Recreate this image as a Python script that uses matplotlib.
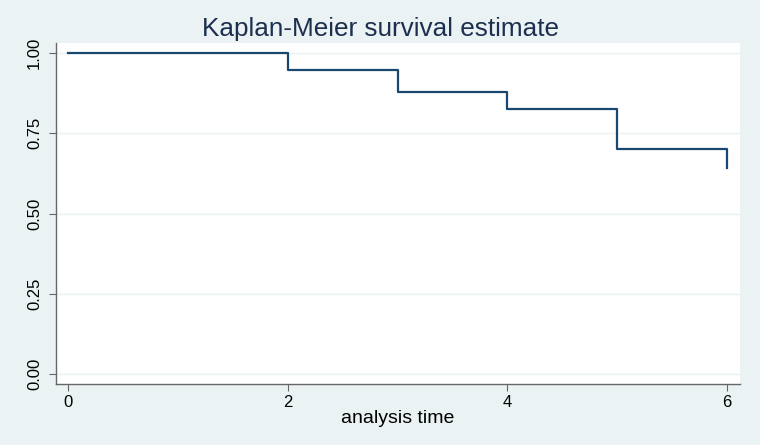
import matplotlib
matplotlib.use("Agg")
import matplotlib.pyplot as plt

# survival estimate data
times = [0, 2, 3, 4, 5, 6]
survival = [1.0, 0.947, 0.877, 0.826, 0.702, 0.643]
xticks = [0, 2, 4, 6]
yticks = [0.0, 0.25, 0.5, 0.75, 1.0]
ytick_labels = ["0.00", "0.25", "0.50", "0.75", "1.00"]

plt.rcParams['font.family'] = ['Liberation Sans', 'DejaVu Sans']

bg = "#EAF2F3"
fig = plt.figure(figsize=(7.6, 4.45), dpi=100, facecolor=bg)
ax = fig.add_axes([56 / 760, 1 - 384 / 445, (740 - 56) / 760, (384 - 43) / 445])
ax.set_facecolor("white")

ax.plot(times, survival, drawstyle="steps-post", color="#1A476F", linewidth=1.6)

ax.set_xlim(-0.109, 6.118)
ax.set_ylim(-0.031, 1.031)
ax.set_xticks(xticks)
ax.set_yticks(yticks)
ax.set_yticklabels(ytick_labels, rotation=90, va="center")
ax.yaxis.grid(True, color=bg, linewidth=1.0)
ax.set_axisbelow(True)

for side in ["top", "right"]:
    ax.spines[side].set_visible(False)
for side in ["left", "bottom"]:
    ax.spines[side].set_color("#666666")
    ax.spines[side].set_linewidth(1.0)
ax.tick_params(colors="#666666", labelcolor="black", length=5, labelsize=12)
ax.tick_params(axis="y", pad=5)
ax.tick_params(axis="x", pad=3)

ax.set_xlabel("analysis time", fontsize=14, labelpad=0)
fig.text(0.5, 1 - 29 / 445, "Kaplan-Meier survival estimate", ha="center", va="center",
         fontsize=18.8, color="#1C2F4F")

fig.savefig("out.png", dpi=100, facecolor=bg)
